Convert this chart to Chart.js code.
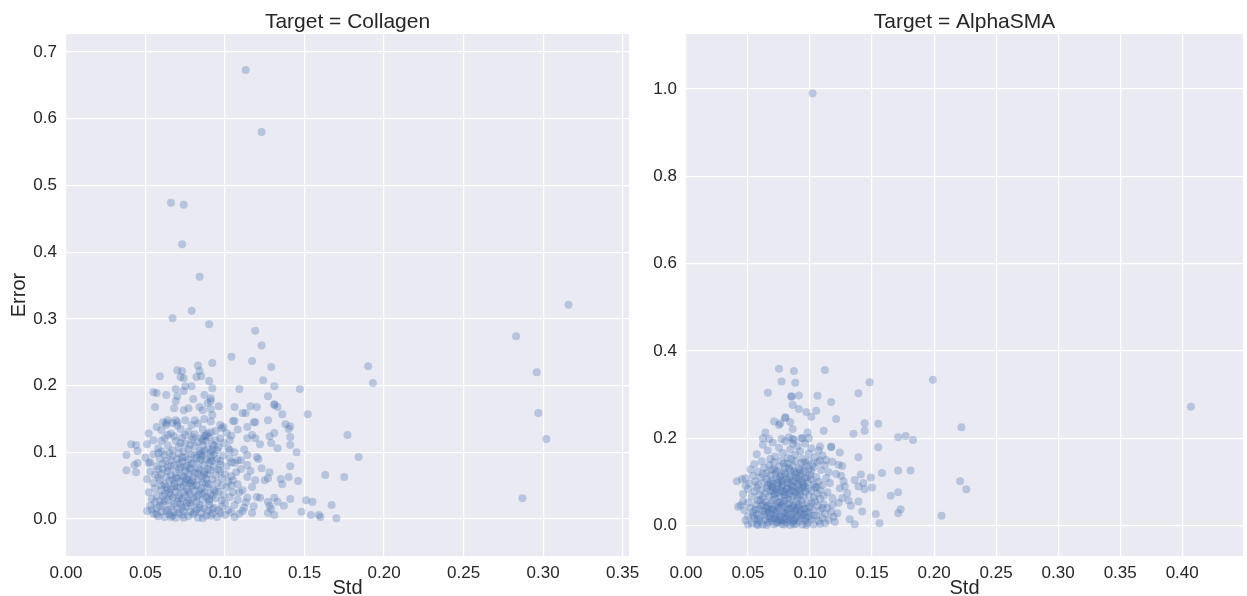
<!DOCTYPE html>
<html>
<head>
<meta charset="utf-8">
<script src="https://cdn.jsdelivr.net/npm/chart.js@4.4.1/dist/chart.umd.min.js"></script>
<style>
  html, body { margin: 0; padding: 0; background: #fff; }
  #wrap { display: flex; width: 1247px; height: 596px; }
  canvas { display: block; }
</style>
</head>
<body>
<div id="wrap">
  <canvas id="collagen" width="640" height="596"></canvas>
  <canvas id="alpha" width="607" height="596"></canvas>
</div>
<script>
// panel titles and axis labels
const panelTitles = ['Target = Collagen', 'Target = AlphaSMA'];
const xLabel = 'Std';
const yLabel = 'Error';

// tick labels
const collagenXTicks = [0.00, 0.05, 0.10, 0.15, 0.20, 0.25, 0.30, 0.35];
const collagenYTicks = [0.0, 0.1, 0.2, 0.3, 0.4, 0.5, 0.6, 0.7];
const alphaXTicks = [0.00, 0.05, 0.10, 0.15, 0.20, 0.25, 0.30, 0.35, 0.40];
const alphaYTicks = [0.0, 0.2, 0.4, 0.6, 0.8, 1.0];

// Collagen: [std, error]
const collagenPoints = [
  // sparse / outliers
  [0.113,0.673],[0.123,0.580],[0.066,0.474],[0.074,0.471],[0.073,0.412],[0.084,0.363],
  [0.079,0.312],[0.067,0.301],[0.090,0.292],[0.119,0.282],[0.123,0.260],[0.104,0.243],
  [0.283,0.274],[0.316,0.321],[0.296,0.220],[0.297,0.159],[0.302,0.120],[0.287,0.031],
  [0.190,0.229],[0.193,0.204],[0.147,0.195],[0.177,0.126],[0.184,0.093],[0.163,0.066],
  [0.167,0.021],[0.151,0.028],[0.152,0.157],[0.170,0.001],[0.159,0.006],
  // upper part of the cloud
  [0.117,0.237],[0.092,0.234],[0.083,0.230],[0.070,0.223],[0.073,0.222],[0.084,0.222],
  [0.059,0.214],[0.072,0.213],[0.074,0.211],[0.082,0.213],[0.085,0.214],[0.090,0.207],
  [0.124,0.208],[0.075,0.199],[0.079,0.199],[0.092,0.196],[0.109,0.195],[0.069,0.195],
  [0.055,0.190],[0.057,0.189],[0.063,0.186],[0.074,0.192],[0.070,0.184],[0.069,0.177],
  [0.087,0.186],[0.091,0.181],[0.091,0.177],[0.089,0.174],[0.080,0.180],[0.096,0.169],
  [0.056,0.168],[0.068,0.166],[0.074,0.163],[0.077,0.166],[0.084,0.168],[0.086,0.163],
  [0.091,0.165],[0.092,0.156],[0.106,0.168],[0.116,0.169],[0.120,0.168],[0.111,0.159],
  [0.113,0.159],[0.087,0.150],[0.105,0.147],[0.118,0.145],[0.119,0.145],[0.064,0.148],
  [0.069,0.148],[0.070,0.145],[0.075,0.148],[0.081,0.148],[0.079,0.141],[0.057,0.138],
  [0.063,0.141],[0.099,0.138],[0.114,0.138],[0.131,0.199],[0.129,0.228],[0.127,0.184],
  [0.133,0.168],[0.131,0.171],[0.131,0.172],[0.136,0.157],[0.127,0.148],[0.106,0.147],
  [0.138,0.142],[0.141,0.139],[0.140,0.135],[0.098,0.136],[0.091,0.130],[0.131,0.129],
  [0.128,0.124],[0.117,0.126],[0.114,0.121],[0.119,0.121],[0.141,0.123],[0.097,0.121],
  [0.103,0.118],[0.122,0.112],[0.129,0.114],[0.133,0.106],[0.141,0.111],[0.103,0.103],
  [0.145,0.100],[0.092,0.103],[0.095,0.103],[0.114,0.096],[0.108,0.088],[0.110,0.088],
  [0.120,0.093],[0.121,0.090],[0.097,0.087],[0.104,0.085],[0.114,0.081],[0.123,0.076],
  [0.141,0.079],[0.128,0.070],[0.175,0.063],[0.114,0.063],[0.119,0.058],[0.125,0.058],
  [0.127,0.061],[0.135,0.060],[0.140,0.063],[0.146,0.057],[0.136,0.052],[0.105,0.058],
  [0.117,0.048],[0.111,0.043],[0.120,0.033],[0.122,0.032],[0.114,0.032],[0.131,0.032],
  [0.141,0.030],[0.127,0.026],[0.133,0.026],[0.155,0.026],[0.137,0.020],[0.128,0.020],
  [0.111,0.012],[0.129,0.015],[0.131,0.006],[0.148,0.011],[0.154,0.006],[0.160,0.003],
  [0.106,0.003],[0.117,0.009],[0.127,0.009],
  // left edge
  [0.041,0.112],[0.044,0.111],[0.045,0.102],[0.038,0.096],[0.045,0.084],[0.043,0.081],
  [0.038,0.073],[0.044,0.070],[0.052,0.084],[0.063,0.144],[0.067,0.144],
  // dense core
  [0.052,0.128],[0.060,0.133],[0.066,0.128],[0.072,0.135],[0.077,0.131],[0.081,0.127],
  [0.086,0.134],[0.089,0.128],[0.094,0.132],[0.070,0.140],[0.083,0.143],[0.091,0.146],
  [0.061,0.145],[0.075,0.126],[0.101,0.129],[0.097,0.141],
  [0.051,0.112],[0.055,0.118],[0.058,0.106],[0.062,0.121],[0.064,0.110],[0.067,0.103],
  [0.069,0.117],[0.071,0.108],[0.073,0.122],[0.075,0.113],[0.077,0.104],[0.079,0.119],
  [0.081,0.109],[0.083,0.115],[0.085,0.121],[0.086,0.110],[0.088,0.117],[0.089,0.105],
  [0.090,0.123],[0.092,0.112],[0.094,0.118],[0.096,0.108],[0.099,0.114],[0.102,0.106],
  [0.068,0.124],[0.084,0.102],[0.087,0.124],[0.060,0.101],[0.074,0.101],[0.091,0.100],
  [0.050,0.092],[0.053,0.085],[0.055,0.097],[0.057,0.079],[0.059,0.090],[0.061,0.083],
  [0.062,0.096],[0.064,0.077],[0.066,0.088],[0.067,0.094],[0.068,0.081],[0.070,0.090],
  [0.071,0.098],[0.072,0.077],[0.073,0.086],[0.075,0.093],[0.076,0.080],[0.077,0.089],
  [0.079,0.097],[0.080,0.083],[0.082,0.091],[0.083,0.076],[0.084,0.087],[0.086,0.095],
  [0.087,0.080],[0.088,0.090],[0.090,0.084],[0.091,0.094],[0.093,0.078],[0.095,0.090],
  [0.097,0.082],[0.099,0.095],[0.101,0.079],[0.103,0.091],[0.106,0.084],[0.058,0.099],
  [0.065,0.099],[0.078,0.076],[0.085,0.099],[0.092,0.087],
  [0.051,0.060],[0.053,0.071],[0.055,0.054],[0.056,0.066],[0.058,0.074],[0.059,0.058],
  [0.060,0.068],[0.062,0.052],[0.063,0.063],[0.064,0.072],[0.065,0.057],[0.066,0.066],
  [0.068,0.053],[0.069,0.070],[0.070,0.061],[0.071,0.074],[0.072,0.056],[0.073,0.065],
  [0.074,0.051],[0.075,0.071],[0.076,0.060],[0.077,0.067],[0.078,0.054],[0.079,0.073],
  [0.080,0.062],[0.081,0.069],[0.082,0.051],[0.083,0.058],[0.084,0.074],[0.085,0.064],
  [0.086,0.055],[0.087,0.070],[0.088,0.060],[0.089,0.067],[0.090,0.052],[0.091,0.073],
  [0.092,0.059],[0.094,0.066],[0.095,0.054],[0.097,0.071],[0.098,0.061],[0.100,0.067],
  [0.102,0.056],[0.104,0.064],[0.107,0.070],[0.061,0.075],[0.067,0.059],[0.074,0.063],
  [0.079,0.057],[0.087,0.066],
  [0.052,0.040],[0.054,0.030],[0.056,0.046],[0.057,0.035],[0.059,0.027],[0.060,0.043],
  [0.061,0.034],[0.063,0.048],[0.064,0.029],[0.065,0.039],[0.066,0.045],[0.067,0.032],
  [0.069,0.041],[0.070,0.026],[0.071,0.036],[0.072,0.047],[0.073,0.030],[0.074,0.040],
  [0.076,0.045],[0.077,0.028],[0.078,0.037],[0.079,0.049],[0.080,0.031],[0.081,0.042],
  [0.082,0.026],[0.083,0.036],[0.085,0.046],[0.086,0.029],[0.087,0.040],[0.088,0.033],
  [0.089,0.048],[0.090,0.027],[0.091,0.038],[0.093,0.044],[0.094,0.031],[0.096,0.041],
  [0.098,0.028],[0.099,0.036],[0.101,0.047],[0.103,0.033],[0.105,0.040],[0.108,0.029],
  [0.062,0.038],[0.068,0.049],[0.075,0.034],[0.084,0.043],[0.092,0.035],
  [0.051,0.012],[0.053,0.020],[0.055,0.008],[0.057,0.016],[0.058,0.004],[0.060,0.011],
  [0.061,0.022],[0.062,0.003],[0.064,0.014],[0.065,0.007],[0.066,0.019],[0.068,0.010],
  [0.069,0.002],[0.070,0.015],[0.072,0.023],[0.073,0.006],[0.074,0.012],[0.075,0.018],
  [0.077,0.004],[0.078,0.011],[0.079,0.020],[0.080,0.007],[0.082,0.014],[0.083,0.002],
  [0.084,0.021],[0.085,0.009],[0.087,0.016],[0.088,0.005],[0.089,0.012],[0.090,0.022],
  [0.092,0.008],[0.093,0.017],[0.095,0.003],[0.096,0.013],[0.098,0.019],[0.100,0.006],
  [0.102,0.014],[0.104,0.010],[0.106,0.021],[0.109,0.008],[0.112,0.017],[0.059,0.019],
  [0.067,0.005],[0.076,0.024],[0.086,0.001],
  [0.104,0.125],[0.108,0.134],[0.112,0.104],[0.106,0.100],[0.110,0.075],[0.116,0.072],
  [0.108,0.052],[0.113,0.025],[0.118,0.019],[0.109,0.040],[0.104,0.050],
  [0.063,0.087],[0.066,0.079],[0.069,0.062],[0.071,0.083],[0.073,0.092],[0.075,0.078],
  [0.077,0.058],[0.079,0.084],[0.081,0.095],[0.083,0.068],[0.085,0.089],[0.087,0.102],
  [0.089,0.075],[0.091,0.088],[0.093,0.110],[0.088,0.125],[0.086,0.118],[0.084,0.097],
  [0.062,0.027],[0.064,0.044],[0.066,0.035],[0.068,0.022],[0.070,0.048],[0.071,0.031],
  [0.073,0.018],[0.075,0.055],[0.077,0.041],[0.078,0.024],[0.080,0.050],[0.082,0.033],
  [0.084,0.017],[0.086,0.038],[0.088,0.053],[0.090,0.030],[0.092,0.015],[0.094,0.042],
  [0.058,0.062],[0.060,0.050],[0.056,0.025],[0.054,0.014],[0.057,0.007],[0.063,0.012],
  [0.066,0.003],[0.071,0.009],[0.074,0.002],[0.081,0.010],[0.091,0.005],[0.097,0.009],
  [0.060,0.117],[0.064,0.126],[0.072,0.114],[0.078,0.111],[0.080,0.122],[0.093,0.097],
  [0.096,0.074],[0.098,0.050],[0.100,0.024]
];

// AlphaSMA: [std, error]
const alphaPoints = [
  // sparse / outliers
  [0.102,0.990],[0.199,0.334],[0.407,0.272],[0.222,0.225],[0.221,0.101],[0.226,0.083],
  [0.206,0.022],[0.148,0.328],
  // upper part of the cloud
  [0.075,0.359],[0.087,0.354],[0.112,0.356],[0.077,0.330],[0.088,0.327],[0.066,0.304],
  [0.085,0.295],[0.085,0.296],[0.091,0.298],[0.106,0.297],[0.139,0.303],[0.117,0.283],
  [0.086,0.276],[0.091,0.267],[0.097,0.260],[0.105,0.263],[0.101,0.249],[0.121,0.244],
  [0.080,0.248],[0.080,0.246],[0.084,0.237],[0.071,0.238],[0.075,0.230],[0.076,0.234],
  [0.086,0.221],[0.098,0.213],[0.111,0.217],[0.135,0.210],[0.064,0.213],[0.062,0.200],
  [0.067,0.198],[0.083,0.202],[0.086,0.198],[0.093,0.200],[0.099,0.200],[0.144,0.234],
  [0.144,0.217],[0.155,0.233],[0.155,0.179],[0.139,0.156],[0.171,0.202],[0.177,0.205],
  [0.183,0.196],[0.171,0.126],[0.181,0.126],[0.171,0.076],[0.165,0.068],[0.171,0.028],
  [0.173,0.037],[0.158,0.120],[0.149,0.110],[0.150,0.087],[0.141,0.117],[0.136,0.104],
  [0.143,0.097],[0.144,0.083],[0.139,0.089],[0.153,0.026],[0.156,0.005],[0.131,0.057],
  [0.139,0.055],[0.142,0.032],[0.132,0.014],[0.136,0.003],[0.123,0.052],[0.122,0.028],
  [0.128,0.089],[0.125,0.114],[0.126,0.136],[0.118,0.146],[0.123,0.139],[0.117,0.181],
  [0.117,0.179],[0.124,0.167],[0.108,0.181],[0.094,0.200],
  // left edge
  [0.041,0.101],[0.045,0.106],[0.048,0.091],[0.042,0.043],[0.046,0.055],[0.050,0.002],
  [0.057,0.003],
  // dense core
  [0.057,0.163],[0.062,0.185],[0.066,0.172],[0.070,0.190],[0.072,0.158],[0.075,0.178],
  [0.078,0.166],[0.080,0.193],[0.082,0.155],[0.084,0.174],[0.086,0.187],[0.088,0.162],
  [0.090,0.181],[0.092,0.170],[0.094,0.153],[0.096,0.188],[0.099,0.165],[0.101,0.177],
  [0.104,0.157],[0.107,0.172],[0.110,0.160],[0.113,0.150],[0.068,0.152],[0.077,0.198],
  [0.087,0.196],
  [0.052,0.128],[0.055,0.140],[0.058,0.123],[0.061,0.147],[0.063,0.132],[0.065,0.121],
  [0.067,0.138],[0.069,0.128],[0.071,0.145],[0.073,0.125],[0.075,0.135],[0.077,0.148],
  [0.079,0.122],[0.080,0.133],[0.082,0.142],[0.084,0.126],[0.086,0.137],[0.088,0.147],
  [0.089,0.121],[0.091,0.131],[0.093,0.143],[0.095,0.126],[0.097,0.136],[0.099,0.148],
  [0.101,0.124],[0.103,0.134],[0.106,0.145],[0.109,0.127],[0.112,0.138],[0.115,0.122],
  [0.108,0.149],
  [0.048,0.108],[0.051,0.096],[0.054,0.114],[0.056,0.101],[0.058,0.093],[0.060,0.110],
  [0.062,0.118],[0.063,0.099],[0.065,0.106],[0.066,0.092],[0.068,0.114],[0.069,0.103],
  [0.070,0.096],[0.072,0.119],[0.073,0.108],[0.074,0.097],[0.076,0.112],[0.077,0.101],
  [0.078,0.093],[0.080,0.117],[0.081,0.106],[0.082,0.098],[0.084,0.113],[0.085,0.091],
  [0.086,0.103],[0.088,0.118],[0.089,0.109],[0.090,0.095],[0.092,0.114],[0.093,0.102],
  [0.095,0.093],[0.096,0.110],[0.098,0.099],[0.100,0.116],[0.101,0.105],[0.103,0.094],
  [0.105,0.111],[0.107,0.100],[0.110,0.092],[0.113,0.108],[0.116,0.097],[0.075,0.104],
  [0.083,0.108],[0.091,0.106],
  [0.046,0.072],[0.050,0.083],[0.053,0.066],[0.055,0.078],[0.057,0.087],[0.059,0.070],
  [0.061,0.081],[0.062,0.064],[0.064,0.074],[0.065,0.086],[0.067,0.067],[0.068,0.079],
  [0.069,0.089],[0.071,0.071],[0.072,0.062],[0.073,0.083],[0.074,0.075],[0.076,0.066],
  [0.077,0.088],[0.078,0.078],[0.079,0.069],[0.081,0.084],[0.082,0.061],[0.083,0.073],
  [0.085,0.080],[0.086,0.067],[0.087,0.088],[0.088,0.076],[0.090,0.063],[0.091,0.082],
  [0.092,0.071],[0.094,0.086],[0.095,0.066],[0.096,0.077],[0.098,0.084],[0.099,0.069],
  [0.101,0.079],[0.103,0.064],[0.104,0.087],[0.106,0.073],[0.108,0.081],[0.111,0.068],
  [0.114,0.076],[0.118,0.063],[0.070,0.079],[0.080,0.077],[0.089,0.070],
  [0.044,0.046],[0.047,0.035],[0.050,0.052],[0.052,0.040],[0.054,0.031],[0.056,0.048],
  [0.058,0.057],[0.059,0.037],[0.061,0.045],[0.062,0.033],[0.064,0.054],[0.065,0.041],
  [0.066,0.030],[0.068,0.049],[0.069,0.038],[0.070,0.058],[0.072,0.044],[0.073,0.033],
  [0.074,0.052],[0.075,0.040],[0.077,0.047],[0.078,0.031],[0.079,0.056],[0.080,0.042],
  [0.082,0.036],[0.083,0.050],[0.084,0.059],[0.085,0.039],[0.087,0.046],[0.088,0.032],
  [0.089,0.053],[0.090,0.041],[0.092,0.035],[0.093,0.057],[0.094,0.048],[0.096,0.038],
  [0.097,0.031],[0.098,0.051],[0.100,0.043],[0.102,0.036],[0.104,0.055],[0.106,0.045],
  [0.108,0.034],[0.111,0.049],[0.114,0.040],[0.117,0.031],[0.067,0.036],[0.076,0.054],
  [0.086,0.044],
  [0.048,0.012],[0.050,0.021],[0.053,0.005],[0.055,0.016],[0.057,0.026],[0.059,0.009],
  [0.060,0.019],[0.062,0.002],[0.063,0.024],[0.064,0.013],[0.066,0.007],[0.067,0.020],
  [0.068,0.028],[0.069,0.011],[0.071,0.003],[0.072,0.017],[0.073,0.025],[0.074,0.008],
  [0.075,0.014],[0.076,0.021],[0.077,0.004],[0.078,0.011],[0.079,0.027],[0.080,0.017],
  [0.081,0.006],[0.082,0.023],[0.083,0.012],[0.084,0.001],[0.085,0.019],[0.086,0.008],
  [0.087,0.026],[0.088,0.015],[0.089,0.004],[0.090,0.021],[0.091,0.010],[0.093,0.017],
  [0.094,0.002],[0.095,0.025],[0.096,0.012],[0.098,0.006],[0.099,0.020],[0.101,0.014],
  [0.103,0.003],[0.105,0.022],[0.107,0.010],[0.110,0.017],[0.112,0.005],[0.115,0.013],
  [0.119,0.020],[0.058,0.001],[0.070,0.016],[0.092,0.029],
  [0.121,0.118],[0.127,0.101],[0.124,0.085],[0.130,0.074],[0.118,0.047],[0.126,0.063],
  [0.133,0.045],[0.120,0.008],
  [0.068,0.096],[0.070,0.087],[0.072,0.074],[0.074,0.091],[0.076,0.082],[0.078,0.102],
  [0.080,0.069],[0.082,0.086],[0.084,0.095],[0.086,0.078],[0.088,0.101],[0.090,0.088],
  [0.092,0.079],[0.094,0.097],[0.096,0.089],[0.098,0.110],
  [0.066,0.045],[0.068,0.016],[0.070,0.035],[0.072,0.026],[0.074,0.043],[0.076,0.012],
  [0.078,0.050],[0.080,0.029],[0.081,0.015],[0.083,0.040],[0.085,0.027],[0.087,0.012],
  [0.089,0.036],[0.091,0.047],[0.093,0.024],[0.095,0.038],[0.097,0.018],[0.099,0.030],
  [0.101,0.052],[0.103,0.023],
  [0.060,0.058],[0.062,0.048],[0.064,0.032],[0.056,0.036],[0.054,0.022],[0.058,0.014],
  [0.065,0.001],[0.073,0.006],[0.079,0.002],[0.087,0.003],[0.097,0.001],[0.108,0.004],
  [0.071,0.128],[0.077,0.118],[0.083,0.131],[0.087,0.123],[0.092,0.127],[0.094,0.119],
  [0.085,0.152],[0.079,0.142],[0.096,0.145],[0.102,0.140],[0.099,0.129],[0.105,0.088],
  [0.108,0.061],[0.110,0.040],[0.112,0.026]
];

const FONT = '"Liberation Sans", Arial, sans-serif';
const TEXT = '#262626';

const panelBg = {
  id: 'panelBg',
  beforeDraw(chart) {
    const { ctx, chartArea: a } = chart;
    ctx.save();
    ctx.fillStyle = '#EAEAF2';
    ctx.fillRect(a.left, a.top, a.right - a.left, a.bottom - a.top);
    ctx.restore();
  }
};

function makePanel(id, points, title, xTicks, yTicks, xRange, yRange, yWidth, padRight, showYTitle) {
  const fixTicks = list => scale => { scale.ticks = list.map(v => ({ value: v })); };
  const grid = { color: '#ffffff', lineWidth: 1.2, drawTicks: false };
  return new Chart(document.getElementById(id), {
    type: 'scatter',
    data: {
      datasets: [{
        data: points.map(p => ({ x: p[0], y: p[1] })),
        backgroundColor: 'rgba(76,114,176,0.32)',
        borderWidth: 0,
        pointRadius: 4,
        pointHoverRadius: 4
      }]
    },
    options: {
      responsive: false,
      animation: false,
      devicePixelRatio: 1,
      layout: { padding: { left: 0, right: padRight, top: 0, bottom: 0 } },
      plugins: { legend: { display: false }, tooltip: { enabled: false } },
      scales: {
        x: {
          type: 'linear', position: 'bottom',
          min: xRange[0], max: xRange[1],
          afterBuildTicks: fixTicks(xTicks),
          afterFit: s => { s.height = 40; s.paddingLeft = 0; s.paddingRight = 0; },
          grid: grid,
          border: { display: false },
          ticks: { color: TEXT, font: { family: FONT, size: 17 }, padding: 7,
                   maxRotation: 0, autoSkip: false, callback: v => v.toFixed(2) },
          title: { display: true, text: xLabel, color: TEXT,
                   font: { family: FONT, size: 20, lineHeight: 1.0 }, padding: { top: 0, bottom: -2 } }
        },
        top: {
          type: 'linear', position: 'top',
          min: xRange[0], max: xRange[1],
          afterFit: s => { s.height = 34; s.paddingLeft = 0; s.paddingRight = 0; },
          grid: { display: false },
          border: { display: false },
          ticks: { display: false },
          title: { display: true, text: title, color: TEXT,
                   font: { family: FONT, size: 21 }, padding: { top: 10, bottom: 0 } }
        },
        y: {
          type: 'linear', position: 'left',
          min: yRange[0], max: yRange[1],
          afterBuildTicks: fixTicks(yTicks),
          afterFit: s => { s.width = yWidth; s.paddingTop = 0; s.paddingBottom = 0; },
          grid: grid,
          border: { display: false },
          ticks: { color: TEXT, font: { family: FONT, size: 17 }, padding: 9,
                   callback: v => v.toFixed(1) },
          title: { display: showYTitle, text: yLabel, color: TEXT,
                   font: { family: FONT, size: 20 }, padding: { top: 7, bottom: 0 } }
        }
      }
    },
    plugins: [panelBg]
  });
}

makePanel('collagen', collagenPoints, panelTitles[0], collagenXTicks, collagenYTicks,
          [0, 0.354], [-0.0555, 0.727], 66, 11, true);
makePanel('alpha', alphaPoints, panelTitles[1], alphaXTicks, alphaYTicks,
          [0, 0.449], [-0.07, 1.126], 46, 2, false);
</script>
</body>
</html>
